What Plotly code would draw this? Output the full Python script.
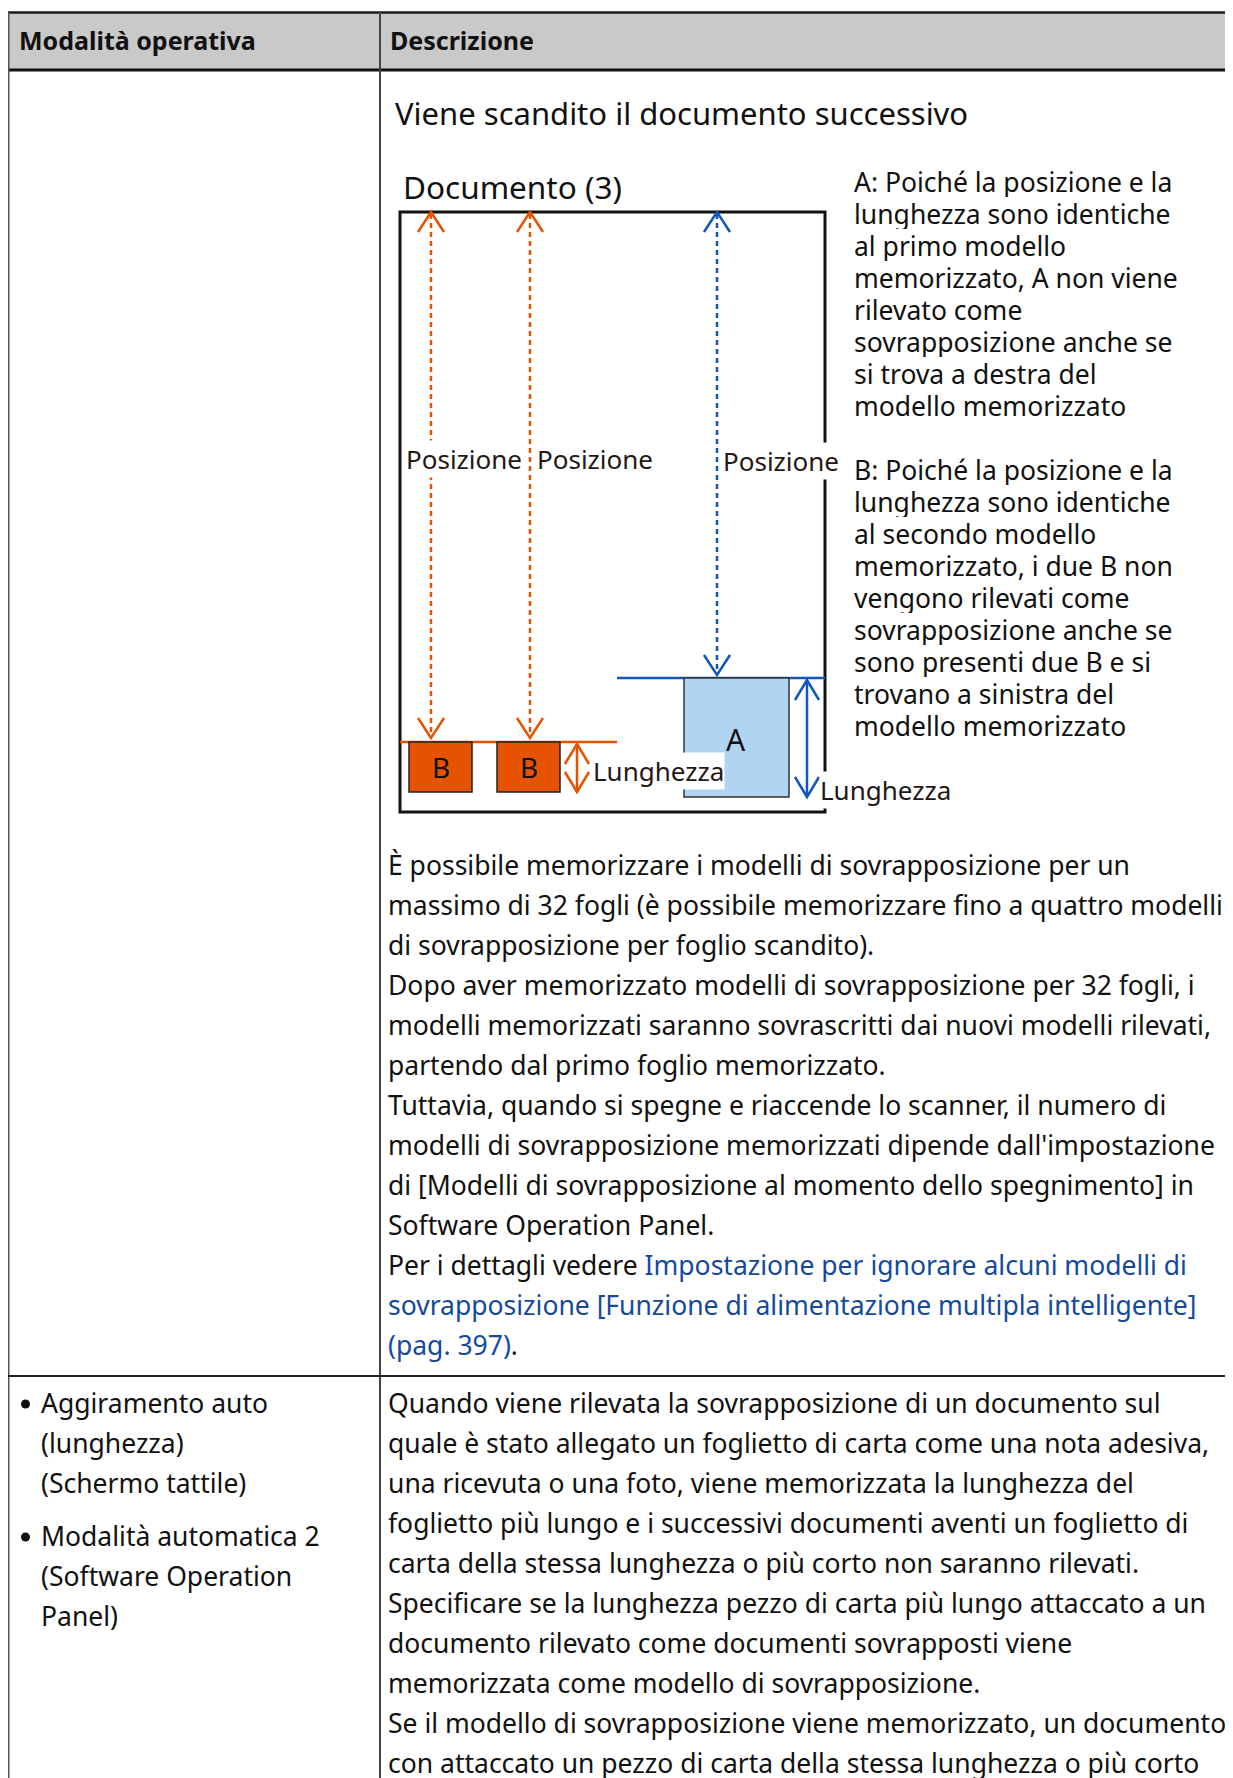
import plotly.graph_objects as go

# ---------------- text content ----------------
header_labels = ["<b>Modalità operativa</b>", "<b>Descrizione</b>"]
intro_title = "Viene scandito il documento successivo"
doc_title = "Documento (3)"
position_label = "Posizione"
length_label = "Lunghezza"
box_labels = ["B", "B", "A"]

note_a_lines = [
    "A: Poiché la posizione e la",
    "lunghezza sono identiche",
    "al primo modello",
    "memorizzato, A non viene",
    "rilevato come",
    "sovrapposizione anche se",
    "si trova a destra del",
    "modello memorizzato",
]
note_b_lines = [
    "B: Poiché la posizione e la",
    "lunghezza sono identiche",
    "al secondo modello",
    "memorizzato, i due B non",
    "vengono rilevati come",
    "sovrapposizione anche se",
    "sono presenti due B e si",
    "trovano a sinistra del",
    "modello memorizzato",
]

LINK = "#15499e"
row1_lines = [
    "È possibile memorizzare i modelli di sovrapposizione per un",
    "massimo di 32 fogli (è possibile memorizzare fino a quattro modelli",
    "di sovrapposizione per foglio scandito).",
    "Dopo aver memorizzato modelli di sovrapposizione per 32 fogli, i",
    "modelli memorizzati saranno sovrascritti dai nuovi modelli rilevati,",
    "partendo dal primo foglio memorizzato.",
    "Tuttavia, quando si spegne e riaccende lo scanner, il numero di",
    "modelli di sovrapposizione memorizzati dipende dall'impostazione",
    "di [Modelli di sovrapposizione al momento dello spegnimento] in",
    "Software Operation Panel.",
    "Per i dettagli vedere <span style='color:%s'>Impostazione per ignorare alcuni modelli di</span>" % LINK,
    "<span style='color:%s'>sovrapposizione [Funzione di alimentazione multipla intelligente]</span>" % LINK,
    "<span style='color:%s'>(pag. 397)</span>." % LINK,
]

row2_mode_lines = [
    ["Aggiramento auto", "(lunghezza)", "(Schermo tattile)"],
    ["Modalità automatica 2", "(Software Operation", "Panel)"],
]

row2_lines = [
    "Quando viene rilevata la sovrapposizione di un documento sul",
    "quale è stato allegato un foglietto di carta come una nota adesiva,",
    "una ricevuta o una foto, viene memorizzata la lunghezza del",
    "foglietto più lungo e i successivi documenti aventi un foglietto di",
    "carta della stessa lunghezza o più corto non saranno rilevati.",
    "Specificare se la lunghezza pezzo di carta più lungo attaccato a un",
    "documento rilevato come documenti sovrapposti viene",
    "memorizzata come modello di sovrapposizione.",
    "Se il modello di sovrapposizione viene memorizzato, un documento",
    "con attaccato un pezzo di carta della stessa lunghezza o più corto",
]

# ---------------- styling ----------------
PAGE_W, PAGE_H = 1233, 1778
OFF = 8  # browser body margin
FONT = "Noto Sans"
BODY = 26.5
TXT = "#111111"
DTXT = "#231815"
ORANGE = "#e65300"
BLUE = "#1358b8"
ABOX = "#b1d4f3"

fig = go.Figure()
shapes = []
ann = []


def line(x0, y0, x1, y1, color="#111", width=2, dash=None):
    d = dict(type="line", x0=x0, y0=y0, x1=x1, y1=y1, xref="x", yref="y",
             line=dict(color=color, width=width))
    if dash:
        d["line"]["dash"] = dash
    shapes.append(d)


def rect(x0, y0, x1, y1, fill, lc="#111", lw=1.5, layer="above"):
    shapes.append(dict(type="rect", x0=x0, y0=y0, x1=x1, y1=y1, xref="x", yref="y",
                       fillcolor=fill, line=dict(color=lc, width=lw), layer=layer))


def head(x, ytip, direction, color, w=13, h=20, lw=2.5):
    # open V arrowhead; direction -1 = pointing up, +1 = pointing down
    yb = ytip - direction * h
    shapes.append(dict(type="path", xref="x", yref="y",
                       path=f"M {x-w},{yb} L {x},{ytip} L {x+w},{yb}",
                       line=dict(color=color, width=lw)))


def text(x, y, s, size=BODY, color=TXT, xanchor="left", bg=None, family=FONT, height=None):
    a = dict(x=x, y=y, xref="x", yref="y", text=s, showarrow=False,
             xanchor=xanchor, yanchor="middle", align="left",
             font=dict(family=family, size=size, color=color))
    if bg:
        a["bgcolor"] = bg
        a["borderpad"] = 0
    if height:
        a["height"] = height
        a["valign"] = "middle"
        a["borderpad"] = 0
    ann.append(a)


# ---------------- table frame ----------------
rect(8, 12, PAGE_W + 5, 70, "#c9c9c9", lc="rgba(0,0,0,0)", lw=0, layer="below")
line(8, 12.5, PAGE_W + 5, 12.5, "#1a1a1a", 2.5)
line(8, 70, PAGE_W + 5, 70, "#111", 3)
line(8.5, 12, 8.5, PAGE_H + 5, "#555", 2)
line(380, 12, 380, PAGE_H + 5, "#444", 2)
line(8, 1376, PAGE_W + 5, 1376, "#222", 2)

text(17, 40, header_labels[0], size=25)
text(388, 40, header_labels[1], size=25)

# ---------------- diagram ----------------
text(393, 113, intro_title, size=31)
text(401, 186, doc_title, size=31.5)

# document outline
shapes.append(dict(type="rect", x0=400, y0=212, x1=825, y1=812, xref="x", yref="y",
                   line=dict(color="#111", width=3)))

# position arrows (dotted)
for xa, col, yend in [(431, ORANGE, 738), (530, ORANGE, 738), (717, BLUE, 675)]:
    line(xa, 214, xa, yend - 2, col, 2.5, dash="5px,4px")
    head(xa, 212, -1, col)
    head(xa, yend, 1, col)

# reference lines
line(400, 742, 617, 742, ORANGE, 2.5)
line(617, 678, 825, 678, BLUE, 2.5)

# pieces
rect(409, 742, 472, 792, ORANGE, "#222", 1.5)
rect(497, 742, 560, 792, ORANGE, "#222", 1.5)
rect(684, 678, 789, 797, ABOX, "#333", 1.5)

# length arrows
line(577, 744, 577, 792, ORANGE, 2.5)
head(577, 744, -1, ORANGE, w=12, h=20)
head(577, 792, 1, ORANGE, w=12, h=20)
line(807, 680, 807, 797, BLUE, 2.5)
head(807, 680, -1, BLUE, w=12, h=20)
head(807, 797, 1, BLUE, w=12, h=20)

text(440.5, 767, box_labels[0], size=28, color="#111", xanchor="center")
text(528.5, 767, box_labels[1], size=28, color="#111", xanchor="center")
text(736, 739, box_labels[2], size=30, color="#111", xanchor="center")

text(405, 459, position_label, size=26, color=DTXT, bg="white")
text(536, 459, position_label, size=26, color=DTXT, bg="white")
text(722, 461, position_label, size=26, color=DTXT, bg="white")
text(592, 771, length_label, size=26, color=DTXT, bg="white")
text(819, 790, length_label, size=26, color=DTXT, bg="white")

for i, s in enumerate(note_a_lines):
    text(853, 181.5 + 32 * i, s, size=26.5, height=30)
for i, s in enumerate(note_b_lines):
    text(853, 469.5 + 32 * i, s, size=26.5, height=30)

# ---------------- body text ----------------
for i, s in enumerate(row1_lines):
    text(386, 865 + 40 * i, s)

ystart = [1403, 1536]
for g, grp in enumerate(row2_mode_lines):
    shapes.append(dict(type="circle", xref="x", yref="y",
                       x0=21, x1=30, y0=ystart[g] - 3.5, y1=ystart[g] + 5.5,
                       fillcolor="#111", line=dict(width=0)))
    for i, s in enumerate(grp):
        text(39, ystart[g] + 40 * i, s)

for i, s in enumerate(row2_lines):
    text(386, 1403 + 40 * i, s)

fig.update_layout(
    width=PAGE_W - OFF, height=PAGE_H - OFF,
    margin=dict(l=0, r=0, t=0, b=0),
    paper_bgcolor="white", plot_bgcolor="white",
    xaxis=dict(range=[OFF, PAGE_W], visible=False, fixedrange=True),
    yaxis=dict(range=[PAGE_H, OFF], visible=False, fixedrange=True),
    shapes=shapes, annotations=ann, showlegend=False,
)
fig.write_html("out.html")
